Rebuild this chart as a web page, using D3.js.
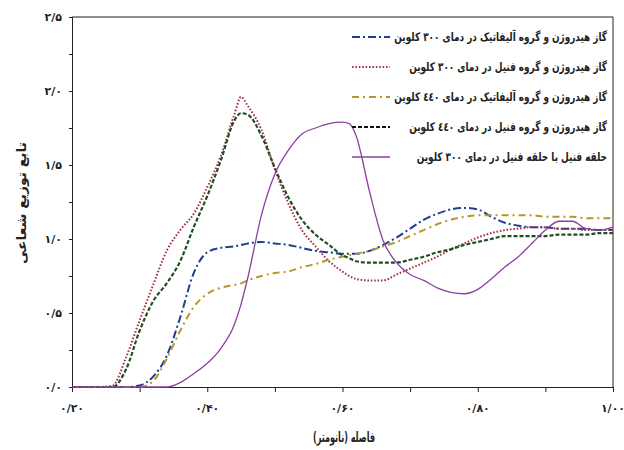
<!DOCTYPE html>
<html>
<head>
<meta charset="utf-8">
<script src="https://cdn.jsdelivr.net/npm/d3@7"></script>
<style>
  body { margin: 0; background: #fff; }
  text { font-family: "DejaVu Sans", sans-serif; font-weight: bold; }
</style>
</head>
<body>
<script>
// distance (nm), shared by every series
const distance = [0.20, 0.22, 0.24, 0.26, 0.28, 0.30, 0.32, 0.34, 0.36, 0.38,
  0.40, 0.42, 0.44, 0.45, 0.46, 0.48, 0.50, 0.52, 0.54, 0.56, 0.58,
  0.60, 0.61, 0.62, 0.64, 0.66, 0.68, 0.70, 0.72, 0.74, 0.76, 0.78,
  0.80, 0.82, 0.84, 0.86, 0.88, 0.90, 0.92, 0.94, 0.96, 0.98, 1.00];

const aliphatic300 = [0, 0, 0, 0, 0, 0.01, 0.07, 0.21, 0.47, 0.77,
  0.91, 0.94, 0.95, 0.96, 0.97, 0.98, 0.97, 0.96, 0.94, 0.92, 0.91,
  0.90, 0.90, 0.90, 0.92, 0.96, 1.01, 1.07, 1.13, 1.17, 1.20, 1.21,
  1.20, 1.15, 1.11, 1.09, 1.08, 1.08, 1.07, 1.07, 1.07, 1.06, 1.06];

const phenyl300 = [0, 0, 0, 0.01, 0.20, 0.45, 0.69, 0.92, 1.06, 1.17,
  1.35, 1.56, 1.84, 1.96, 1.90, 1.74, 1.47, 1.24, 1.06, 0.95, 0.85,
  0.78, 0.75, 0.73, 0.72, 0.72, 0.76, 0.80, 0.84, 0.88, 0.93, 0.97,
  1.01, 1.04, 1.06, 1.07, 1.08, 1.08, 1.07, 1.07, 1.06, 1.06, 1.06];

const aliphatic440 = [0, 0, 0, 0, 0, 0, 0.04, 0.19, 0.38, 0.54,
  0.63, 0.67, 0.69, 0.70, 0.72, 0.75, 0.77, 0.78, 0.81, 0.83, 0.86,
  0.88, 0.89, 0.90, 0.92, 0.95, 0.98, 1.02, 1.06, 1.10, 1.13, 1.15,
  1.16, 1.16, 1.16, 1.16, 1.16, 1.15, 1.15, 1.15, 1.14, 1.14, 1.14];

const phenyl440 = [0, 0, 0, 0, 0.12, 0.38, 0.58, 0.70, 0.85, 1.08,
  1.29, 1.53, 1.80, 1.85, 1.84, 1.70, 1.48, 1.28, 1.13, 1.03, 0.96,
  0.89, 0.87, 0.85, 0.84, 0.84, 0.84, 0.86, 0.88, 0.91, 0.93, 0.96,
  0.98, 1.00, 1.02, 1.02, 1.02, 1.02, 1.03, 1.03, 1.03, 1.04, 1.04];

const ringRing300 = [0, 0, 0, 0, 0, 0, 0, 0, 0.03, 0.09,
  0.16, 0.26, 0.42, 0.56, 0.74, 1.16, 1.44, 1.60, 1.71, 1.75, 1.78,
  1.79, 1.78, 1.70, 1.32, 0.99, 0.84, 0.76, 0.72, 0.67, 0.64, 0.63,
  0.66, 0.73, 0.81, 0.88, 0.97, 1.06, 1.12, 1.12, 1.07, 1.06, 1.08];

const seriesNames = [
  'گاز هیدروژن و گروه آلیفاتیک در دمای ۳۰۰ کلوین',
  'گاز هیدروژن و گروه فنیل در دمای ۳۰۰ کلوین',
  'گاز هیدروژن و گروه آلیفاتیک در دمای ٤٤٠ کلوین',
  'گاز هیدروژن و گروه فنیل در دمای ٤٤٠ کلوین',
  'حلقه فنیل با حلقه فنیل در دمای ۳۰۰ کلوین'
];

const xTicks = [0.2, 0.4, 0.6, 0.8, 1.0];
const xTickLabels = ['۰/۲۰', '۰/۴۰', '۰/۶۰', '۰/۸۰', '۱/۰۰'];
const yTicks = [0, 0.5, 1.0, 1.5, 2.0, 2.5];
const yTickLabels = ['۰/۰', '۰/۵', '۱/۰', '۱/۵', '۲/۰', '۲/۵'];

const margin = {top: 17, bottom: 63, left: 72, right: 11};
const width = 624 - margin.left - margin.right;
const height = 450 - margin.top - margin.bottom;

const svg = d3.select('body').append('svg')
  .attr('width', 624)
  .attr('height', 450);

const g = svg.append('g')
  .attr('transform', `translate(${margin.left},${margin.top})`);

const x = d3.scaleLinear().domain([0.2, 1.0]).range([0, width]);
const y = d3.scaleLinear().domain([0, 2.5]).range([height, 0]);

// squeeze a text node horizontally to a target length (the source font is condensed)
function squeeze(sel, target) {
  sel.each(function () {
    const len = this.getComputedTextLength();
    const k = target / len;
    const t = d3.select(this).attr('transform') || '';
    d3.select(this).attr('transform', `${t} scale(${k},1)`);
  });
}

// frame (top + right)
g.append('path')
  .attr('d', `M0,0H${width}V${height}`)
  .attr('fill', 'none')
  .attr('stroke', '#222')
  .attr('stroke-width', 1);

// x axis
const xAxis = g.append('g')
  .attr('transform', `translate(0,${height})`)
  .call(d3.axisBottom(x).tickValues(d3.range(0.2, 1.01, 0.1)).tickSize(5).tickFormat(''));
xAxis.select('.domain').attr('stroke', '#222');
xAxis.selectAll('line').attr('stroke', '#222');

g.append('g').selectAll('text')
  .data(xTicks)
  .join('text')
  .attr('x', (d) => x(d))
  .attr('y', height + 25)
  .attr('text-anchor', 'middle')
  .attr('font-size', 11)
  .attr('fill', '#222')
  .text((d, i) => xTickLabels[i]);

// y axis
const yAxis = g.append('g')
  .call(d3.axisLeft(y).tickValues(d3.range(0, 2.51, 0.25)).tickSize(3).tickFormat(''));
yAxis.select('.domain').attr('stroke', '#222');
yAxis.selectAll('line').attr('stroke', '#222');

g.append('g').selectAll('text')
  .data(yTicks)
  .join('text')
  .attr('x', -10)
  .attr('y', (d) => y(d) + 4)
  .attr('text-anchor', 'end')
  .attr('font-size', 11)
  .attr('fill', '#222')
  .text((d, i) => yTickLabels[i]);

// axis titles
svg.append('text')
  .attr('transform', 'translate(26,203) rotate(-90)')
  .attr('text-anchor', 'middle')
  .attr('direction', 'rtl')
  .attr('font-size', 13)
  .attr('fill', '#222')
  .text('تابع توزیع شعاعی')
  .call(squeeze, 122);

svg.append('text')
  .attr('transform', 'translate(344,442)')
  .attr('text-anchor', 'middle')
  .attr('direction', 'rtl')
  .attr('font-size', 14)
  .attr('fill', '#222')
  .text('فاصله (نانومتر)')
  .call(squeeze, 62);

// series
const series = [
  {name: seriesNames[0], values: aliphatic300, color: '#1d3f8e', dash: '8,3,2,3', w: 2},
  {name: seriesNames[1], values: phenyl300, color: '#a3334b', dash: '1.6,1.8', w: 2},
  {name: seriesNames[2], values: aliphatic440, color: '#b8952c', dash: '7,4,2,4', w: 2},
  {name: seriesNames[3], values: phenyl440, color: '#1f4f22', dash: '4,2', w: 2.2},
  {name: seriesNames[4], values: ringRing300, color: '#8c3f9f', dash: null, w: 1.3}
];

const line = d3.line()
  .x((d) => x(d[0]))
  .y((d) => y(d[1]))
  .curve(d3.curveMonotoneX);

g.selectAll('.series')
  .data(series)
  .join('path')
  .attr('class', 'series')
  .attr('fill', 'none')
  .attr('stroke', (d) => d.color)
  .attr('stroke-width', (d) => d.w)
  .attr('stroke-dasharray', (d) => d.dash)
  .attr('d', (d) => line(distance.map((v, i) => [v, d.values[i]])));

// legend
const legend = svg.append('g').selectAll('g')
  .data(series)
  .join('g')
  .attr('transform', (d, i) => `translate(0,${37 + i * 30})`);

legend.append('line')
  .attr('x1', 352)
  .attr('x2', 390)
  .attr('stroke', (d, i) => i === 3 ? '#111' : d.color)
  .attr('stroke-width', (d) => d.w)
  .attr('stroke-dasharray', (d) => d.dash);

const legendText = legend.append('text')
  .attr('transform', 'translate(607,4)')
  .attr('direction', 'rtl')
  .attr('text-anchor', 'start')
  .attr('font-size', 12)
  .attr('fill', '#222')
  .text((d) => d.name);

// same squeeze for every row, set by the first row's length
const firstLen = legendText.node().getComputedTextLength();
const kLegend = 213 / firstLen;
legendText.attr('transform', `translate(607,4) scale(${kLegend},1)`);
</script>
</body>
</html>
